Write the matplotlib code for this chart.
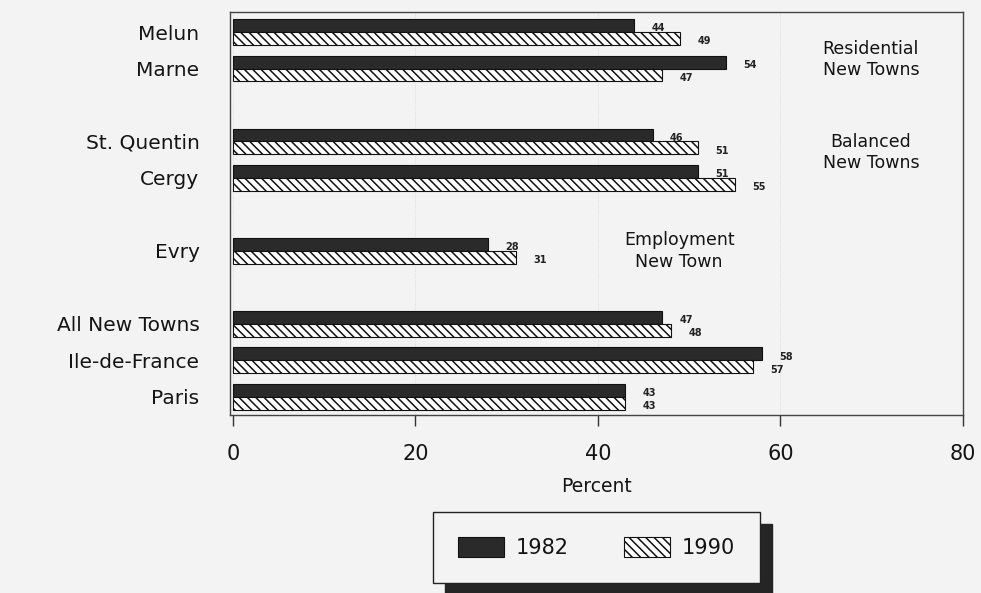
import matplotlib
matplotlib.use("Agg")
import matplotlib.pyplot as plt
from matplotlib.patches import Patch

plt.rcParams['font.family'] = ['DejaVu Sans']
plt.rcParams['hatch.linewidth'] = 1.1

# ---- data ----
groups = [['Melun', 'Marne'],
          ['St. Quentin', 'Cergy'],
          ['Evry'],
          ['All New Towns', 'Ile-de-France', 'Paris']]
v1982 = [44, 54, 46, 51, 28, 47, 58, 43]
v1990 = [49, 47, 51, 55, 31, 48, 57, 43]
series_labels = ['1982', '1990']
group_notes = ['Residential\nNew Towns', 'Balanced\nNew Towns', 'Employment\nNew Town']
xticks = [0, 20, 40, 60, 80]

# ---- layout ----
categories, ypos = [], []
slot = 0
for g in groups:
    for name in g:
        categories.append(name)
        ypos.append(slot)
        slot += 1
    slot += 1

BG = '#f3f3f3'
DARK = '#2a2a2a'
TXT = '#141414'
fig = plt.figure(figsize=(9.81, 5.93), dpi=100, facecolor=BG)
ax = fig.add_axes([0.2345, 0.3002, 0.7472, 0.6796], facecolor=BG)

h = 0.355
y1 = [p - h / 2 for p in ypos]
y2 = [p + h / 2 for p in ypos]
ax.barh(y1, v1982, height=h, color=DARK, edgecolor='#111111', linewidth=0.8, zorder=3)
ax.barh(y2, v1990, height=h, color='white', edgecolor='#111111', linewidth=0.8,
        hatch='\\\\\\\\', zorder=3)

for yy, v in zip(y1, v1982):
    ax.text(v + 1.9, yy + 0.08, f'{v}', fontsize=7, fontweight='bold',
            ha='left', va='center', color='#222222', zorder=4)
for yy, v in zip(y2, v1990):
    ax.text(v + 1.9, yy + 0.08, f'{v}', fontsize=7, fontweight='bold',
            ha='left', va='center', color='#222222', zorder=4)

# group notes
ax.text(69.9, 0.75, group_notes[0], fontsize=12.5, ha='center', va='center',
        color=TXT, linespacing=1.25)
ax.text(69.9, 3.3, group_notes[1], fontsize=12.5, ha='center', va='center',
        color=TXT, linespacing=1.25)
ax.text(48.9, 6.0, group_notes[2], fontsize=12.5, ha='center', va='center',
        color=TXT, linespacing=1.25)

ax.set_xlim(-0.3, 80)
ax.set_ylim(10.5, -0.55)
ax.set_yticks(ypos)
ax.set_yticklabels(categories, fontsize=14.5, color=TXT)
ax.tick_params(axis='y', length=0, pad=22)
ax.set_xticks(xticks)
ax.set_xticklabels([str(t) for t in xticks], fontsize=15, color=TXT)
ax.tick_params(axis='x', direction='out', length=8, width=1, pad=13, color='#333333')
ax.set_xlabel('Percent', fontsize=13.5, color=TXT, labelpad=9)
for s in ax.spines.values():
    s.set_color('#444444')
    s.set_linewidth(1)
ax.xaxis.grid(True, linestyle=':', color='#d6d6d6', linewidth=0.6, zorder=0)

handles = [Patch(facecolor=DARK, edgecolor='#111111', linewidth=0.8),
           Patch(facecolor='white', edgecolor='#111111', linewidth=0.8, hatch='\\\\\\\\')]
leg = fig.legend(handles, series_labels, loc='center', bbox_to_anchor=(0.608, 0.0767),
                 ncol=2, fontsize=15, frameon=True, fancybox=False,
                 handlelength=2.2, handleheight=1.1, handletextpad=0.55,
                 columnspacing=2.7, borderpad=1.2,
                 shadow={'ox': 8.6, 'oy': -8.6, 'facecolor': '#252525',
                         'edgecolor': '#252525', 'alpha': 1})
for t in leg.get_texts():
    t.set_color(TXT)
fr = leg.get_frame()
fr.set_facecolor(BG)
fr.set_edgecolor('#222222')
fr.set_linewidth(1)
fr.set_alpha(1)

fig.savefig('out.png', dpi=100, facecolor=BG)
